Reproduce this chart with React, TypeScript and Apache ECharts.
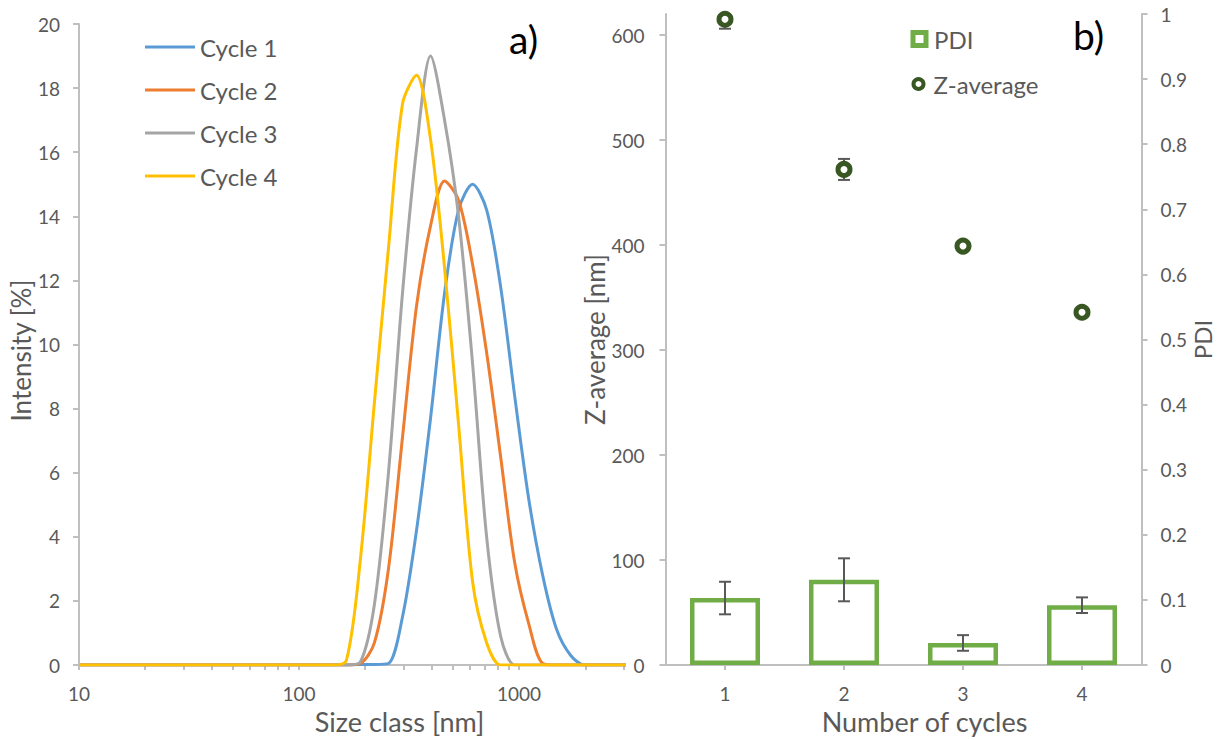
import React, { useEffect, useRef } from "react";
import * as echarts from "echarts";

// Size classes (nm) of the DLS distribution
const sizeClasses = [
  10.1, 11.7, 13.54, 15.69, 18.17, 21.04, 24.36, 28.21, 32.67, 37.84, 43.82, 50.75, 58.77, 68.06,
  78.82, 91.28, 105.7, 122.4, 141.8, 164.2, 190.1, 220.2, 255.0, 295.3, 342.0, 396.1, 458.7, 531.2,
  615.1, 712.4, 825.0, 955.4, 1106, 1281, 1484, 1718, 1990, 2305, 2669, 3091,
];
// Intensity [%] per size class
const cycle1 = [
  0, 0, 0, 0, 0, 0, 0, 0, 0, 0, 0, 0, 0, 0, 0, 0, 0, 0, 0, 0, 0.02, 0.02, 0.05, 1.5, 4.2, 7.7, 11.6,
  14.2, 15.0, 14.2, 11.8, 8.4, 5.2, 2.8, 1.1, 0.3, 0, 0, 0, 0,
];
const cycle2 = [
  0, 0, 0, 0, 0, 0, 0, 0, 0, 0, 0, 0, 0, 0, 0, 0, 0, 0, 0, 0, 0.05, 0.7, 3.0, 7.1, 11.2, 13.7, 15.1,
  14.5, 12.5, 9.75, 6.5, 3.2, 1.3, 0.05, 0, 0, 0, 0, 0, 0,
];
const cycle3 = [
  0, 0, 0, 0, 0, 0, 0, 0, 0, 0, 0, 0, 0, 0, 0, 0, 0, 0, 0, 0, 0.1, 1.9, 6.0, 11.6, 16.1, 19.0, 17.0,
  14.0, 9.4, 4.0, 0.9, 0, 0, 0, 0, 0, 0, 0, 0, 0,
];
const cycle4 = [
  0, 0, 0, 0, 0, 0, 0, 0, 0, 0, 0, 0, 0, 0, 0, 0, 0, 0, 0, 0.15, 3.3, 8.2, 13.0, 17.5, 18.4, 16.4,
  12.4, 7.5, 2.6, 0.7, 0, 0, 0, 0, 0, 0, 0, 0, 0, 0,
];
const cycleNames = ["Cycle 1", "Cycle 2", "Cycle 3", "Cycle 4"];
const cycleColors = ["#5B9BD5", "#ED7D31", "#A5A5A5", "#FFC000"];

// Panel b
const cycleCategories = ["1", "2", "3", "4"];
const pdi = [0.103, 0.131, 0.034, 0.092];
const pdiErr = [0.025, 0.033, 0.012, 0.012];
const zAverage = [615, 472, 399, 336];
const zAverageErr = [9, 10, 3, 3];

// Tick labels
const sizeTickLabels = [10, 100, 1000];
const sizeMinorTicks = [
  10, 20, 30, 40, 50, 60, 70, 80, 90, 100, 200, 300, 400, 500, 600, 700, 800, 900, 1000, 2000, 3000,
];
const zTicks = [0, 100, 200, 300, 400, 500, 600];

const FONT = "Lato";
const TXT = "#595959";
const AXIS = "#BFBFBF";

export default function App() {
  const ref = useRef<HTMLDivElement>(null);

  useEffect(() => {
    if (!ref.current) return;
    const chart = echarts.init(ref.current, undefined, { renderer: "svg" });

    const axisLine = { show: true, lineStyle: { color: AXIS, width: 2 } };
    const axisLabel = { color: TXT, fontSize: 19, fontFamily: FONT };
    const nameStyle = { color: TXT, fontSize: 27, fontFamily: FONT };

    const errRender = (capHalf: number) => (params: any, api: any) => {
      const x = api.value(0);
      const lo = api.coord([x, api.value(1)]);
      const hi = api.coord([x, api.value(2)]);
      const style = { stroke: "#595959", lineWidth: 2 };
      return {
        type: "group",
        children: [
          { type: "line", shape: { x1: lo[0], y1: lo[1], x2: hi[0], y2: hi[1] }, style },
          { type: "line", shape: { x1: lo[0] - capHalf, y1: lo[1], x2: lo[0] + capHalf, y2: lo[1] }, style },
          { type: "line", shape: { x1: hi[0] - capHalf, y1: hi[1], x2: hi[0] + capHalf, y2: hi[1] }, style },
        ],
      };
    };

    const cycles = [cycle1, cycle2, cycle3, cycle4];

    chart.setOption({
      animation: false,
      backgroundColor: "#ffffff",
      textStyle: { fontFamily: FONT },
      grid: [
        { left: 79, top: 24, width: 545, height: 649, containLabel: false },
        { left: 665.5, top: 14, width: 476, height: 658, containLabel: false },
      ],
      xAxis: [
        {
          type: "log",
          gridIndex: 0,
          logBase: 10,
          min: 10,
          max: 3000,
          name: "Size class [nm]",
          nameLocation: "middle",
          nameGap: 35,
          nameTextStyle: { ...nameStyle, padding: [0, 0, 0, 96] },
          axisLine,
          axisTick: { show: true, length: 5, lineStyle: { color: AXIS, width: 2 }, customValues: sizeMinorTicks },
          axisLabel: { ...axisLabel, margin: 19, customValues: sizeTickLabels, formatter: (v: number) => String(Math.round(v)) },
          splitLine: { show: false },
          minorTick: { show: false },
        },
        {
          type: "category",
          gridIndex: 1,
          data: cycleCategories,
          name: "Number of cycles",
          nameLocation: "middle",
          nameGap: 35,
          nameTextStyle: { ...nameStyle, padding: [0, 0, 0, 42] },
          axisLine,
          axisTick: { show: true, alignWithLabel: true, length: 5, lineStyle: { color: AXIS, width: 2 } },
          axisLabel: { ...axisLabel, margin: 19 },
          splitLine: { show: false },
        },
      ],
      yAxis: [
        {
          type: "value",
          gridIndex: 0,
          min: 0,
          max: 20,
          interval: 2,
          name: "Intensity [%]",
          nameLocation: "middle",
          nameGap: 44,
          nameRotate: 90,
          nameTextStyle: { ...nameStyle, fontSize: 26, padding: [0, 12, 0, 0] },
          axisLine,
          axisTick: { show: true, length: 6, lineStyle: { color: AXIS, width: 2 } },
          axisLabel: { ...axisLabel, margin: 19 },
          splitLine: { show: false },
        },
        {
          type: "value",
          gridIndex: 1,
          min: 0,
          max: 620,
          interval: 100,
          name: "Z-average [nm]",
          nameLocation: "middle",
          nameGap: 55,
          nameRotate: 90,
          nameTextStyle: { ...nameStyle, fontSize: 26 },
          axisLine,
          axisTick: { show: true, length: 6, lineStyle: { color: AXIS, width: 2 }, customValues: zTicks },
          axisLabel: { ...axisLabel, margin: 21, customValues: zTicks },
          splitLine: { show: false },
        },
        {
          type: "value",
          gridIndex: 1,
          position: "right",
          min: 0,
          max: 1,
          interval: 0.1,
          name: "PDI",
          nameLocation: "middle",
          nameGap: 39,
          nameRotate: 90,
          nameTextStyle: { ...nameStyle, fontSize: 24 },
          axisLine,
          axisTick: { show: true, length: 6, lineStyle: { color: AXIS, width: 2 } },
          axisLabel: { ...axisLabel, margin: 19 },
          splitLine: { show: false },
        },
      ],
      legend: [
        {
          data: cycleNames,
          left: 145,
          top: 35,
          orient: "vertical",
          icon: "rect",
          itemWidth: 50,
          itemHeight: 3,
          itemGap: 19,
          padding: 0,
          textStyle: { color: TXT, fontSize: 24, fontFamily: FONT },
        },
        {
          data: [{ name: "PDI", icon: "rect", itemStyle: { color: "#ffffff", borderColor: "#70AD47", borderWidth: 5 } }],
          left: 910.5,
          top: 27,
          itemWidth: 13,
          itemHeight: 13,
          padding: 0,
          textStyle: { color: TXT, fontSize: 24, fontFamily: FONT, padding: [0, 0, 0, 3] },
        },
        {
          data: [{ name: "Z-average", icon: "circle", itemStyle: { color: "#ffffff", borderColor: "#385723", borderWidth: 4 } }],
          left: 911.5,
          top: 72,
          itemWidth: 10,
          itemHeight: 10,
          padding: 0,
          textStyle: { color: TXT, fontSize: 24, fontFamily: FONT, padding: [0, 0, 0, 5] },
        },
      ],
      graphic: [
        { type: "text", left: 509, top: 19, style: { text: "a)", fontSize: 39, fontFamily: FONT, fill: "#000000" } },
        { type: "text", left: 1073, top: 15, style: { text: "b)", fontSize: 39, fontFamily: FONT, fill: "#000000" } },
      ],
      series: [
        ...cycles.map((vals, i) => ({
          name: cycleNames[i],
          type: "line",
          xAxisIndex: 0,
          yAxisIndex: 0,
          data: sizeClasses.map((s, j) => [s, vals[j]]),
          showSymbol: false,
          symbol: "none",
          smooth: 0.3,
          lineStyle: { color: cycleColors[i], width: 3 },
          itemStyle: { color: cycleColors[i] },
          z: 2 + i,
        })),
        {
          name: "PDI",
          type: "bar",
          xAxisIndex: 1,
          yAxisIndex: 2,
          data: pdi,
          barWidth: 70,
          itemStyle: { color: "#ffffff", borderColor: "#70AD47", borderWidth: 4.5 },
          z: 2,
        },
        {
          name: "PDI error",
          type: "custom",
          xAxisIndex: 1,
          yAxisIndex: 2,
          data: pdi.map((v, i) => [i, v - pdiErr[i], v + pdiErr[i]]),
          encode: { x: 0, y: [1, 2] },
          renderItem: errRender(6),
          z: 5,
        },
        {
          name: "Z-average error",
          type: "custom",
          xAxisIndex: 1,
          yAxisIndex: 1,
          clip: true,
          data: zAverage.map((v, i) => [i, v - zAverageErr[i], v + zAverageErr[i]]),
          encode: { x: 0, y: [1, 2] },
          renderItem: errRender(6),
          z: 5,
        },
        {
          name: "Z-average",
          type: "scatter",
          xAxisIndex: 1,
          yAxisIndex: 1,
          data: zAverage.map((v, i) => [i, v]),
          symbol: "circle",
          symbolSize: 12,
          itemStyle: { color: "#ffffff", borderColor: "#385723", borderWidth: 5, opacity: 1 },
          z: 6,
        },
      ],
    });

    return () => chart.dispose();
  }, []);

  return (
    <div
      ref={ref}
      style={{ position: "fixed", left: 0, top: 0, width: 1217, height: 740, background: "#fff" }}
    />
  );
}
